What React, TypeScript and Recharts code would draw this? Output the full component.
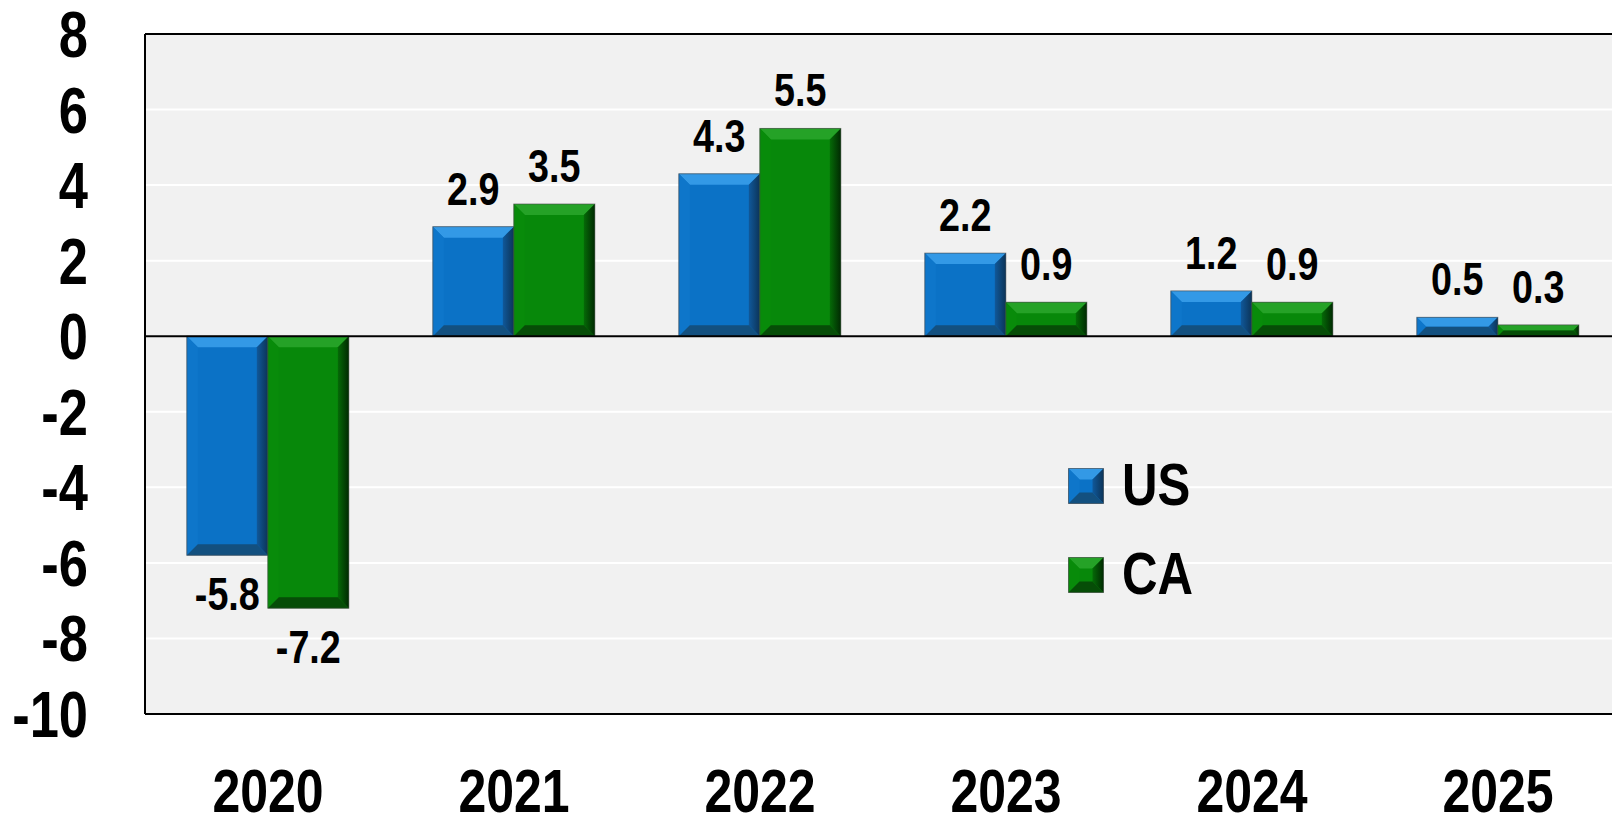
import React from 'react'
import { BarChart, Bar, XAxis, YAxis, CartesianGrid, ReferenceLine, LabelList } from 'recharts'

const years = ['2020', '2021', '2022', '2023', '2024', '2025']
const usValues = [-5.8, 2.9, 4.3, 2.2, 1.2, 0.5]
const caValues = [-7.2, 3.5, 5.5, 0.9, 0.9, 0.3]
const yTicks = [-10, -8, -6, -4, -2, 0, 2, 4, 6, 8]
const seriesNames = ['US', 'CA'] as const

const data = years.map((year, i) => ({ year, US: usValues[i], CA: caValues[i] }))

// Arial Narrow look: Liberation Sans squeezed to 82%
const FONT = "'Liberation Sans', Arial, sans-serif"
const NARROW = 0.82

const palette: any = {
  US: { base: '#0b72c6', top: '#3399e6', left: '#0e76ca', rightIn: '#10589a', rightOut: '#0c3458', bottom: '#13507f' },
  CA: { base: '#07880a', top: '#25a227', left: '#088b0a', rightIn: '#056a07', rightOut: '#012a02', bottom: '#064d07' },
}

function bevelParts(x: number, y: number, w: number, h: number, key: 'US' | 'CA') {
  const c = palette[key]
  const b = Math.min(11, h / 2, w / 2)
  const gid = `bevel-right-${key}`
  return (
    <g>
      <defs>
        <linearGradient id={gid} x1="0" y1="0" x2="1" y2="0">
          <stop offset="0%" stopColor={c.rightIn} />
          <stop offset="100%" stopColor={c.rightOut} />
        </linearGradient>
      </defs>
      <rect x={x} y={y} width={w} height={h} fill={c.base} />
      <polygon points={`${x},${y} ${x + w},${y} ${x + w - b},${y + b} ${x + b},${y + b}`} fill={c.top} />
      <polygon points={`${x},${y} ${x + b},${y + b} ${x + b},${y + h - b} ${x},${y + h}`} fill={c.left} />
      <polygon points={`${x + w},${y} ${x + w},${y + h} ${x + w - b},${y + h - b} ${x + w - b},${y + b}`} fill={`url(#${gid})`} />
      <polygon points={`${x},${y + h} ${x + b},${y + h - b} ${x + w - b},${y + h - b} ${x + w},${y + h}`} fill={c.bottom} />
      <rect x={x} y={y} width={w} height={h} fill="none" stroke="rgba(70,70,70,0.6)" strokeWidth={1} />
    </g>
  )
}

function NarrowText({ x, y, size, anchor, children }: any) {
  return (
    <text
      transform={`translate(${x}, ${y}) scale(${NARROW}, 1)`}
      textAnchor={anchor}
      fontFamily={FONT}
      fontWeight="bold"
      fontSize={size}
      fill="#000"
    >
      {children}
    </text>
  )
}

const BevelBar = (key: 'US' | 'CA') => (props: any) => {
  const { x, y, width, height } = props
  if (width == null || height == null) return null
  const top = Math.min(y, y + height)
  const h = Math.abs(height)
  return bevelParts(x, top, width, h, key)
}

const ValueLabel = (props: any) => {
  const { x, y, width, height, value } = props
  const cx = x + width / 2
  const top = Math.min(y, y + height)
  const bottom = Math.max(y, y + height)
  const ty = value >= 0 ? top - 22 : bottom + 55
  return <NarrowText x={cx} y={ty} size={46} anchor="middle">{value}</NarrowText>
}

const YTick = (props: any) => (
  <NarrowText x={props.x} y={props.y + 23} size={64} anchor="end">{props.payload.value}</NarrowText>
)

const XTick = (props: any) => (
  <NarrowText x={props.x} y={props.y + 98} size={61} anchor="middle">{props.payload.value}</NarrowText>
)

const LegendBox = () => (
  <svg width={160} height={140} style={{ position: 'absolute', left: 1067, top: 462 }}>
    {seriesNames.map((k, i) => (
      <g key={k}>
        {bevelParts(1.5, 6.5 + i * 89, 35, 35, k)}
        <NarrowText x={55} y={43 + i * 89} size={60} anchor="start">{k}</NarrowText>
      </g>
    ))}
  </svg>
)

export default function App() {
  return (
    <div style={{ position: 'absolute', left: 0, top: 0, width: 1612, height: 817, overflow: 'hidden', background: '#fff' }}>
      <BarChart
        width={1621}
        height={817}
        data={data}
        margin={{ top: 34, right: 0, bottom: 0, left: 0 }}
        barCategoryGap="17%"
        barGap={0}
      >
        <CartesianGrid vertical={false} fill="#f1f1f1" stroke="#ffffff" strokeWidth={2} />
        <XAxis
          dataKey="year"
          height={103}
          axisLine={{ stroke: '#000', strokeWidth: 2 }}
          tickLine={false}
          tickSize={0}
          tickMargin={0}
          tick={<XTick />}
        />
        <YAxis
          width={145}
          domain={[-10, 8]}
          ticks={yTicks}
          interval={0}
          allowDataOverflow
          axisLine={{ stroke: '#000', strokeWidth: 2 }}
          tickLine={false}
          tickSize={0}
          tickMargin={57}
          tick={<YTick />}
        />
        <ReferenceLine y={8} stroke="#000" strokeWidth={2} />
        <Bar dataKey="US" shape={BevelBar('US')} isAnimationActive={false}>
          <LabelList dataKey="US" content={<ValueLabel />} />
        </Bar>
        <Bar dataKey="CA" shape={BevelBar('CA')} isAnimationActive={false}>
          <LabelList dataKey="CA" content={<ValueLabel />} />
        </Bar>
        <ReferenceLine y={0} stroke="#000" strokeWidth={2} />
      </BarChart>
      <LegendBox />
    </div>
  )
}
